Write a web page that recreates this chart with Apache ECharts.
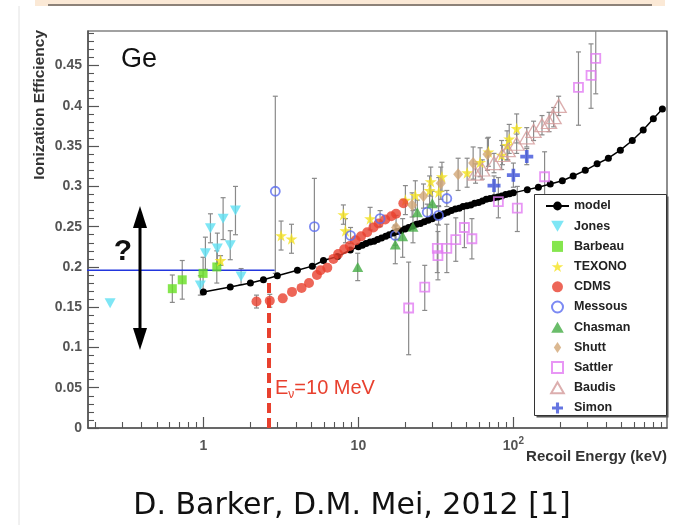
<!DOCTYPE html>
<html>
<head>
<meta charset="utf-8">
<script src="https://cdn.jsdelivr.net/npm/echarts@6/dist/echarts.min.js"></script>
<style>
html,body{margin:0;padding:0;background:#fff}
#chart{width:679px;height:525px}
</style>
</head>
<body>
<div id="chart"></div>
<script>
// Axis ticks and labels
const xTickValues = [1, 10, 100];
const xTickLabels = ['{b|1}', '{b|10}', '{b|10}{sup|2}'];
const yTickValues = [0, 0.05, 0.1, 0.15, 0.2, 0.25, 0.3, 0.35, 0.4, 0.45];
const yTickLabels = ['0', '0.05', '0.1', '0.15', '0.2', '0.25', '0.3', '0.35', '0.4', '0.45'];

// Model curve: [recoil energy keV, ionization efficiency]
const model = [
  [1.0,0.169],[1.49,0.175],[2.01,0.180],[2.44,0.184],[3.0,0.189],[4.04,0.196],[5.04,0.201],
  [5.95,0.208],[7.33,0.213],[8.87,0.221],
  [10,0.225],[10.6,0.227],[11.2,0.229],[11.9,0.231],[12.6,0.232],[13.3,0.234],[14.1,0.236],
  [15,0.238],[15.8,0.240],[16.8,0.242],[17.8,0.244],[18.8,0.245],[20,0.247],[21.1,0.249],
  [22.4,0.251],[23.7,0.253],[25.1,0.254],[26.6,0.256],[28.2,0.258],[29.9,0.260],[31.6,0.262],
  [33.5,0.264],[35.5,0.266],[37.6,0.268],[39.8,0.270],[42.2,0.272],[44.7,0.273],[47.3,0.275],
  [50.1,0.276],[53.1,0.277],[56.2,0.279],[59.6,0.280],[63.1,0.282],[66.8,0.284],[70.8,0.285],
  [75,0.286],[79.4,0.287],[84.1,0.288],[89.1,0.290],[94.4,0.291],[100,0.292],
  [123,0.296],[145,0.299],[173,0.303],[207,0.307],[243,0.313],[291,0.320],[347,0.328],
  [410,0.335],[490,0.345],[585,0.357],[688,0.370],[800,0.384],[915,0.396]
];

// Measurements: [energy keV, efficiency, error down, error up]
const jones = [
  [0.25,0.155,0,0],[0.955,0.177,0.012,0.012],[1.03,0.217,0.02,0.02],[1.11,0.248,0.018,0.018],
  [1.23,0.223,0.019,0.019],[1.34,0.260,0.026,0.026],[1.49,0.227,0.018,0.018],
  [1.61,0.270,0.030,0.030],[1.75,0.188,0.010,0.010]
];
const barbeau = [
  [0.63,0.173,0.017,0.017],[0.73,0.184,0.024,0.024],[0.995,0.192,0.02,0.02],[1.22,0.200,0.02,0.02]
];
const texono = [
  [1.29,0.208,0.006,0.006],[3.17,0.239,0.018,0.018],[3.70,0.235,0.018,0.018],[8.0,0.265,0.012,0.012],
  [8.25,0.245,0.015,0.015],[11.9,0.260,0.014,0.014],[20.1,0.283,0.018,0.018],[23.3,0.289,0.018,0.018],
  [28.8,0.295,0.018,0.018],[29.3,0.306,0.018,0.018],[33.0,0.293,0.018,0.018],[34.6,0.312,0.018,0.018],
  [50.3,0.317,0.018,0.018],[61,0.330,0.018,0.018],[69,0.343,0.018,0.018],[84,0.339,0.018,0.018],
  [91,0.351,0.018,0.018],[94,0.359,0.018,0.018],[105,0.372,0.018,0.018]
];
const cdms = [
  [2.20,0.157,0.008,0.008],[2.68,0.158,0.008,0.008],[3.25,0.161,0,0],[3.73,0.169,0,0],[4.3,0.174,0,0],
  [4.8,0.180,0,0],[5.4,0.190,0,0],[5.7,0.196,0,0],[6.3,0.199,0,0],[6.9,0.210,0,0],[7.4,0.216,0,0],
  [8.1,0.222,0,0],[8.8,0.226,0,0],[9.6,0.233,0,0],[10.4,0.238,0,0],[11.4,0.243,0,0],[12.5,0.249,0,0],
  [13.5,0.254,0,0],[14.9,0.259,0,0],[16.3,0.263,0,0],[17.5,0.266,0,0],[19.5,0.279,0,0]
];
const messous = [
  [2.91,0.294,0.102,0.118],[5.2,0.250,0.05,0.06],[8.9,0.239,0.01,0.01],[13.8,0.260,0.01,0.01],
  [17.3,0.239,0.012,0.012],[27.8,0.268,0.01,0.01],[32.9,0.264,0.012,0.012],[37.2,0.285,0.01,0.01]
];
const chasman = [
  [9.9,0.200,0.017,0.017],[17.3,0.228,0.024,0.024],[19.3,0.238,0.026,0.022],[22.5,0.250,0.02,0.02],
  [24,0.268,0.015,0.015],[30,0.279,0.015,0.015]
];
const shutt = [
  [17.5,0.249,0.015,0.015],[22.2,0.277,0.015,0.015],[26.3,0.288,0.015,0.015],[34,0.304,0.02,0.02],
  [44,0.315,0.02,0.02],[55,0.329,0.02,0.02],[68,0.340,0.02,0.02]
];
const sattler = [
  [21.1,0.149,0.058,0.057],[26.8,0.175,0.029,0.027],[32.3,0.223,0.03,0.03],[32.6,0.214,0.03,0.03],
  [37.2,0.223,0.03,0.03],[42.5,0.234,0.027,0.027],[48.3,0.249,0.025,0.025],[54,0.235,0.025,0.025],
  [80,0.281,0.02,0.03],[106,0.273,0.029,0.027],[159,0.312,0.03,0.031],[263,0.423,0.047,0.044],
  [317,0.438,0.041,0.039],[340,0.459,0.044,0.05]
];
const baudis = [
  [57,0.316,0.012,0.012],[63,0.321,0.012,0.012],[75,0.329,0.012,0.012],[85,0.339,0.012,0.012],
  [92,0.345,0.012,0.012],[105,0.353,0.012,0.012],[122,0.361,0.012,0.012],[135,0.369,0.012,0.012],
  [153,0.376,0.012,0.012],[170,0.380,0.012,0.012],[182,0.386,0.012,0.012],[196,0.400,0.012,0.012]
];
const simon = [
  [75,0.301,0.012,0.012],[100,0.314,0.015,0.015],[122,0.337,0.01,0.01]
];

// Reference guides
const guideEfficiency = [[0.156,0.196],[2.88,0.196]];
const guideThreshold = [[2.65,0],[2.65,0.184]];

const legendNames = ['model','Jones','Barbeau','TEXONO','CDMS','Messous','Chasman','Shutt','Sattler','Baudis','Simon'];

// Minor tick positions
const xMinorTicks = [];
[0.1, 1, 10, 100].forEach(function (d) {
  for (let k = 2; k <= 9; k++) xMinorTicks.push(+(d * k).toPrecision(3));
});
const yMinorTicks = [];
for (let i = 1; i <= 49; i++) { if (i % 5) yMinorTicks.push(i / 100); }

const STAR = 'path://M50,0 L61,35 L98,35 L68,57 L79,91 L50,70 L21,91 L32,57 L2,35 L39,35 Z';
const DOWN_TRI = 'path://M0,0 L100,0 L50,87 Z';
const PLUS = 'path://M36,0 H64 V36 H100 V64 H64 V100 H36 V64 H0 V36 H36 Z';
const TRI = 'path://M50,0 L100,87 L0,87 Z';
const SQUARE = 'path://M0,0 H100 V100 H0 Z';
const DIAMOND = 'path://M50,0 L90,60 L50,120 L10,60 Z';
const FONT = 'Liberation Sans, Arial, sans-serif';

const groups = [
  {name:'Jones', data:jones, symbol:DOWN_TRI, size:[11,10], color:'#5ee0f2'},
  {name:'Barbeau', data:barbeau, symbol:SQUARE, size:9, color:'#66e022'},
  {name:'TEXONO', data:texono, symbol:STAR, size:12, color:'#f5e21e'},
  {name:'CDMS', data:cdms, symbol:'circle', size:10, color:'#e8402e'},
  {name:'Messous', data:messous, symbol:'circle', size:9, color:'#5a6cf0', hollow:true, bw:1.8},
  {name:'Chasman', data:chasman, symbol:TRI, size:[11,10], color:'#45ad45'},
  {name:'Shutt', data:shutt, symbol:DIAMOND, size:[10,12], color:'#d2a676'},
  {name:'Sattler', data:sattler, symbol:SQUARE, size:9, color:'#e27cf2', hollow:true, bw:1.8},
  {name:'Baudis', data:baudis, symbol:TRI, size:[15,13], color:'#d39a9a', hollow:true, bw:1.3},
  {name:'Simon', data:simon, symbol:PLUS, size:13, color:'#3f53d9'}
];

// Error bars for all measurements
const errorRows = [];
groups.forEach(function (g) {
  g.data.forEach(function (r) {
    if (r[2] || r[3]) errorRows.push([r[0], r[1] - r[2], r[1] + r[3]]);
  });
});

function renderErrorBar(params, api) {
  const x = api.value(0);
  const p1 = api.coord([x, api.value(1)]);
  const p2 = api.coord([x, api.value(2)]);
  const cap = 2.5;
  const st = {stroke:'#8a8a8a', lineWidth:1.2};
  return {type:'group', children:[
    {type:'line', shape:{x1:p1[0], y1:p1[1], x2:p2[0], y2:p2[1]}, style:st},
    {type:'line', shape:{x1:p1[0]-cap, y1:p1[1], x2:p1[0]+cap, y2:p1[1]}, style:st},
    {type:'line', shape:{x1:p2[0]-cap, y1:p2[1], x2:p2[0]+cap, y2:p2[1]}, style:st}
  ]};
}

const series = [
  {type:'custom', name:'errors', data:errorRows, encode:{x:0, y:[1,2]}, renderItem:renderErrorBar,
   clip:true, silent:true, z:1},
  {type:'line', name:'guideH', data:guideEfficiency, showSymbol:false, clip:false, silent:true, z:1,
   lineStyle:{color:'#2236dd', width:1.5}},
  {type:'line', name:'guideV', data:guideThreshold, showSymbol:false, silent:true, z:1,
   lineStyle:{color:'#e8402e', width:4, type:[10,5]}},
  {type:'line', name:'model', data:model, symbol:'circle', symbolSize:7, showAllSymbol:true,
   lineStyle:{color:'#000', width:1.5}, itemStyle:{color:'#000'}, z:2}
];
groups.forEach(function (g) {
  series.push({
    type:'scatter', name:g.name, data:g.data.map(function (r) { return [r[0], r[1]]; }),
    symbol:g.symbol, symbolSize:g.size, z:3,
    itemStyle: g.hollow
      ? {color:'rgba(255,255,255,0)', borderColor:g.color, borderWidth:g.bw}
      : {color:g.color, borderWidth:0}
  });
});

function matchTick(values, v) {
  for (let i = 0; i < values.length; i++) {
    if (Math.abs(values[i] - v) <= 1e-6 * Math.max(1, Math.abs(v))) return i;
  }
  return -1;
}

const chart = echarts.init(document.getElementById('chart'), null, {renderer:'canvas'});
chart.setOption({
  animation:false,
  backgroundColor:'#fff',
  grid:{left:88, right:12, top:31, bottom:97, show:true, borderColor:'#444', borderWidth:1.2},
  xAxis:[
    {type:'log', logBase:10, min:0.18, max:980, position:'bottom',
     axisLine:{show:true, onZero:false, lineStyle:{color:'#555', width:1.5}},
     axisTick:{show:true, inside:true, length:11, customValues:xTickValues, lineStyle:{color:'#555', width:1.2}},
     axisLabel:{customValues:xTickValues, margin:8,
       formatter:function (v) { const i = matchTick(xTickValues, v); return i < 0 ? '' : xTickLabels[i]; },
       rich:{
         b:{fontFamily:FONT, fontSize:14, fontWeight:'bold', color:'#555', lineHeight:20},
         sup:{fontFamily:FONT, fontSize:10, fontWeight:'bold', color:'#555', lineHeight:8, verticalAlign:'top'}
       }},
     splitLine:{show:false}},
    {type:'log', logBase:10, min:0.18, max:980, position:'bottom',
     axisLine:{show:false},
     axisTick:{show:true, inside:true, length:6, customValues:xMinorTicks, lineStyle:{color:'#555', width:1.1}},
     axisLabel:{show:false}, splitLine:{show:false}}
  ],
  yAxis:[
    {type:'value', min:0, max:0.493, position:'left',
     axisLine:{show:true, onZero:false, lineStyle:{color:'#555', width:1.5}},
     axisTick:{show:true, inside:true, length:11, customValues:yTickValues, lineStyle:{color:'#555', width:1.2}},
     axisLabel:{customValues:yTickValues, margin:6, fontFamily:FONT, fontSize:14, fontWeight:'bold', color:'#555',
       formatter:function (v) { const i = matchTick(yTickValues, v); return i < 0 ? '' : yTickLabels[i]; }},
     splitLine:{show:false}},
    {type:'value', min:0, max:0.493, position:'left',
     axisLine:{show:false},
     axisTick:{show:true, inside:true, length:6, customValues:yMinorTicks, lineStyle:{color:'#555', width:1.1}},
     axisLabel:{show:false}, splitLine:{show:false}}
  ],
  legend:{
    data:legendNames, orient:'vertical', left:540, top:194, itemWidth:23, itemHeight:11, itemGap:6.2,
    selectedMode:false, z:10,
    textStyle:{fontFamily:FONT, fontSize:12.5, fontWeight:'bold', color:'#222', lineHeight:14}
  },
  graphic:[
    {type:'rect', z:0, shape:{x:35, y:0, width:630, height:6}, style:{fill:'#fbe9d6'}},
    {type:'line', z:0, shape:{x1:48, y1:5, x2:652, y2:5}, style:{stroke:'#8d8278', lineWidth:2}},
    {type:'line', z:0, shape:{x1:19, y1:6, x2:19, y2:525}, style:{stroke:'#e2e2e2', lineWidth:1}},
    {type:'rect', z:8, shape:{x:536.5, y:196.5, width:132, height:221}, style:{fill:'#555'}},
    {type:'rect', z:8, shape:{x:534.5, y:194.5, width:132, height:221}, style:{fill:'#fff', stroke:'#333', lineWidth:1}},
    {type:'text', z:9, x:121, y:60, style:{text:'Ge', fontFamily:FONT, fontSize:27, fill:'#111',
      align:'left', textAlign:'left', verticalAlign:'middle', textVerticalAlign:'middle'}},
    {type:'text', z:9, x:123, y:252, style:{text:'?', fontFamily:FONT, fontSize:30, fontWeight:'bold', fill:'#111',
      align:'center', textAlign:'center', verticalAlign:'middle', textVerticalAlign:'middle'}},
    {type:'line', z:9, shape:{x1:140, y1:222, x2:140, y2:334}, style:{stroke:'#000', lineWidth:3}},
    {type:'polygon', z:9, shape:{points:[[140,206],[133,228],[147,228]]}, style:{fill:'#000'}},
    {type:'polygon', z:9, shape:{points:[[140,350],[133,328],[147,328]]}, style:{fill:'#000'}},
    {type:'text', z:9, x:275, y:388, style:{text:'{e|E}{nu|ν}{e|=10 MeV}', align:'left', textAlign:'left',
      verticalAlign:'middle', textVerticalAlign:'middle',
      rich:{
        e:{fontFamily:FONT, fontSize:20, fill:'#e8402e', color:'#e8402e', lineHeight:26},
        nu:{fontFamily:FONT, fontSize:12, fill:'#e8402e', color:'#e8402e', lineHeight:4, verticalAlign:'bottom'}
      }}},
    {type:'text', z:9, x:40, y:30, rotation:Math.PI / 2, style:{text:'Ionization Efficiency', fontFamily:FONT,
      fontSize:15.5, fontWeight:'bold', fill:'#333', align:'right', textAlign:'right',
      verticalAlign:'middle', textVerticalAlign:'middle'}},
    {type:'text', z:9, x:667, y:457, style:{text:'Recoil Energy (keV)', fontFamily:FONT,
      fontSize:15, fontWeight:'bold', fill:'#333', align:'right', textAlign:'right',
      verticalAlign:'middle', textVerticalAlign:'middle'}},
    {type:'text', z:9, x:352, y:506, style:{text:'D. Barker, D.M. Mei, 2012 [1]', fontFamily:'DejaVu Sans',
      fontSize:30, fill:'#111', align:'center', textAlign:'center',
      verticalAlign:'middle', textVerticalAlign:'middle'}}
  ],
  series:series
});
</script>
</body>
</html>
